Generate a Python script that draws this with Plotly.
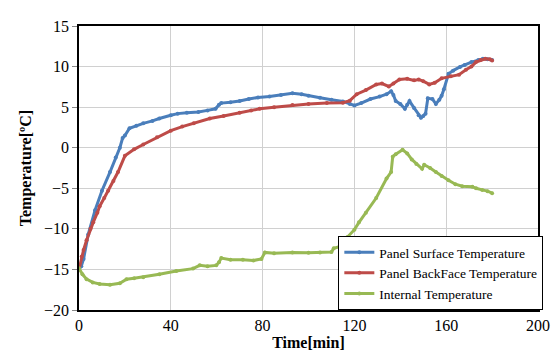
import plotly.graph_objects as go

# Panel Surface Temperature
t_s = [0, 1, 2, 4, 7, 10, 13.5, 16, 17.8, 19, 20, 22, 25, 28, 32, 35, 40, 43, 47, 52,
       56, 59.5, 61, 62, 66, 70, 74, 78, 83, 88, 93, 97, 100, 105, 110, 115, 118, 120, 123, 127,
       131, 134, 136, 137, 138, 140, 142, 143, 144, 146, 148, 149, 150, 151, 152, 154, 155.5, 157, 158, 159,
       161, 163, 166, 168, 171, 174, 176, 178, 180]
v_s = [-15, -14.6, -13.7, -10.7, -7.7, -5.3, -3.0, -1.2, 0, 1.2, 1.5, 2.4, 2.7, 3.0, 3.3, 3.6, 4.0, 4.2, 4.3, 4.4,
       4.6, 4.8, 5.3, 5.5, 5.6, 5.75, 6.0, 6.2, 6.3, 6.5, 6.7, 6.6, 6.4, 6.15, 5.9, 5.7, 5.4, 5.2, 5.5, 6.0,
       6.3, 6.6, 6.95, 6.5, 5.75, 5.4, 4.8, 5.3, 5.75, 4.9, 4.0, 3.7, 3.9, 4.2, 6.1, 6.0, 5.4, 5.9, 6.4, 7.2,
       9.1, 9.5, 9.95, 10.2, 10.55, 10.8, 10.95, 10.9, 10.8]

# Panel BackFace Temperature
t_b = [0, 1.2, 2, 3.3, 5, 6.2, 8, 9, 11, 12.7, 15, 17, 20, 24, 28, 34, 40, 45, 50, 57,
       63, 70, 75, 78.7, 85, 93, 100, 108, 115, 118, 121, 125, 129.5, 132, 135, 137, 139.6, 143, 146, 148,
       150, 152.6, 155, 158, 162, 165.6, 168.6, 171, 173, 175, 177, 179, 180]
v_b = [-15, -13.4, -12.6, -11.4, -10.0, -9.2, -8.0, -7.2, -6.2, -5.3, -4.1, -3.0, -1.0, -0.2, 0.4, 1.3, 2.1, 2.6, 3.0, 3.6,
       3.9, 4.3, 4.6, 4.8, 5.0, 5.25, 5.4, 5.5, 5.55, 5.8, 6.6, 7.1, 7.8, 7.9, 7.55, 7.9, 8.4, 8.5, 8.3, 8.4,
       8.2, 7.8, 8.0, 8.55, 8.8, 9.0, 9.6, 10.0, 10.55, 10.8, 10.95, 10.9, 10.75]

# Internal Temperature
t_i = [0, 1.5, 3.3, 6, 9, 13.5, 17.8, 20.7, 24, 28, 35, 42.4, 49.7, 52.6, 56, 59.8, 61, 62, 66, 71.4,
       76, 79.5, 81, 85, 93, 100, 105, 110, 111, 113.5, 115, 117, 120, 122, 125, 129.5, 134, 136, 136.7, 138,
       141, 143, 145, 147, 149.5, 150.4, 153, 155.5, 158, 161, 164, 167, 171.4, 173, 175.7, 178, 180]
v_i = [-14.85, -15.6, -16.2, -16.6, -16.8, -16.9, -16.7, -16.2, -16.1, -15.95, -15.6, -15.2, -14.9, -14.5, -14.6, -14.5, -14.1, -13.6, -13.8, -13.8,
       -13.9, -13.7, -12.9, -13.0, -12.9, -12.95, -12.9, -12.85, -12.4, -12.2, -11.6, -11.0, -10.1, -9.2, -8.0, -6.2, -3.8, -3.0, -1.1, -0.8,
       -0.25, -0.7, -1.45, -2.0, -2.6, -2.1, -2.5, -3.0, -3.5, -4.0, -4.5, -4.75, -4.8, -5.0, -5.2, -5.35, -5.6]

assert len(t_s) == len(v_s), (len(t_s), len(v_s))
assert len(t_b) == len(v_b), (len(t_b), len(v_b))
assert len(t_i) == len(v_i), (len(t_i), len(v_i))

series = [
    ("Panel Surface Temperature", t_s, v_s, "#4A7EBB"),
    ("Panel BackFace Temperature", t_b, v_b, "#BE4B48"),
    ("Internal Temperature", t_i, v_i, "#98B954"),
]

fig = go.Figure()
for name, t, v, c in series:
    fig.add_trace(go.Scatter(x=t, y=v, name=name, mode="lines+markers",
                             line=dict(color=c, width=3), marker=dict(color=c, size=4)))

font = "Liberation Serif"
fig.update_layout(
    width=552, height=355,
    margin=dict(l=71, r=21, t=10, b=53),
    paper_bgcolor="white", plot_bgcolor="white",
    font=dict(family=font, size=16, color="black"),
    showlegend=True,
    legend=dict(x=0.565, y=0, xanchor="left", yanchor="bottom",
                bgcolor="white", bordercolor="black", borderwidth=1,
                font=dict(family=font, size=13.5, color="black"),
                tracegroupgap=0, itemwidth=30),
)
fig.update_xaxes(range=[0, 200], tickvals=[0, 40, 80, 120, 160, 200],
                 tickfont=dict(family=font, size=16),
                 showgrid=True, gridcolor="#D0D0D0", gridwidth=1,
                 showline=True, linecolor="black", linewidth=1.5, mirror=True,
                 ticks="", zeroline=False,
                 title=dict(text="<b>Time[min]</b>", standoff=4, font=dict(family=font, size=16)))
fig.update_yaxes(range=[-20, 15], tickvals=[-20, -15, -10, -5, 0, 5, 10, 15],
                 tickfont=dict(family=font, size=16),
                 showgrid=True, gridcolor="#D0D0D0", gridwidth=1,
                 showline=True, linecolor="black", linewidth=1.5, mirror=True,
                 ticks="outside", ticklen=5, tickcolor="#888", zeroline=False,
                 title=dict(text="<b>Temperature[ºC]</b>", standoff=8, font=dict(family=font, size=16)))

fig.write_html("out.html")
